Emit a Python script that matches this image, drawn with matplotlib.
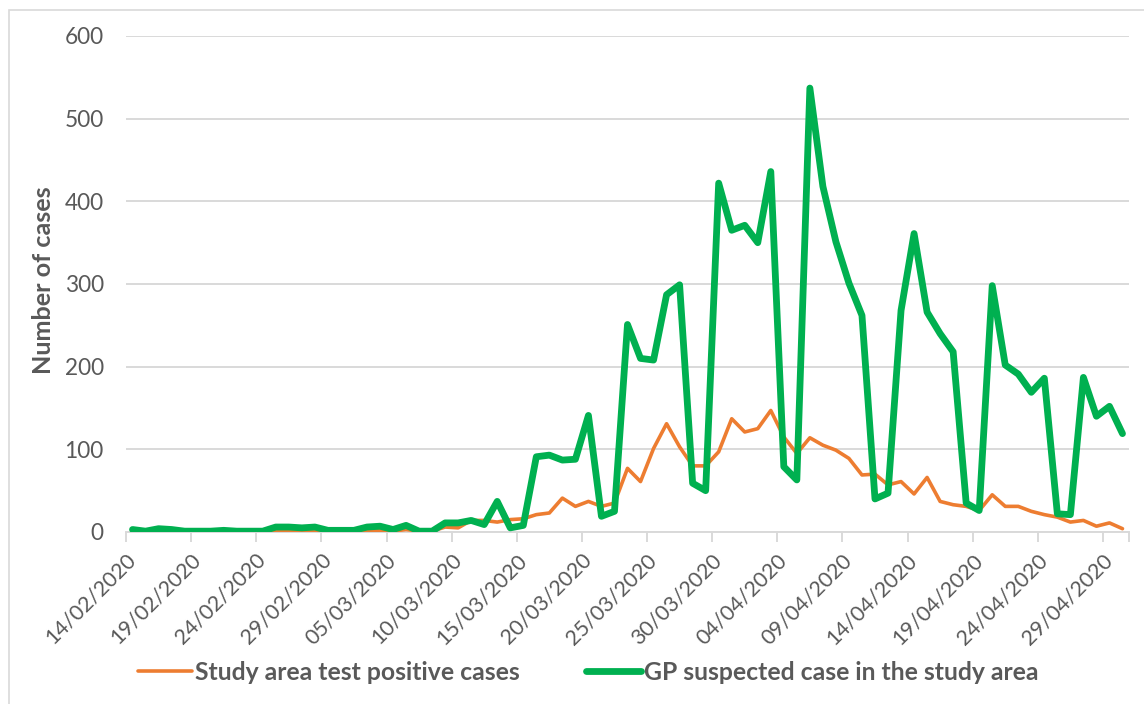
import matplotlib
matplotlib.use("Agg")
import matplotlib.pyplot as plt
import pandas as pd
from matplotlib.patches import Rectangle

dates = pd.date_range("2020-02-14", periods=77, freq="D")

positive_cases = [1, 0, 1, 1, 0, 0, 0, 0, 0, 0,
                  0, 2, 2, 2, 2, 1, 1, 1, 2, 2,
                  1, 3, 1, 1, 6, 5, 14, 14, 12, 15,
                  16, 21, 23, 41, 31, 37, 31, 35, 77, 61,
                  101, 131, 103, 80, 80, 97, 137, 121, 125, 147,
                  115, 95, 114, 105, 99, 89, 69, 70, 57, 61,
                  46, 66, 37, 33, 31, 26, 45, 31, 31, 25,
                  21, 18, 12, 14, 7, 11, 4]

gp_suspected = [3, 1, 4, 3, 1, 1, 1, 2, 1, 1,
                1, 6, 6, 5, 6, 2, 2, 2, 6, 7,
                3, 8, 1, 1, 11, 11, 14, 9, 37, 5,
                8, 91, 93, 87, 88, 141, 19, 25, 251, 210,
                208, 287, 299, 59, 50, 422, 365, 371, 350, 436,
                79, 63, 537, 418, 351, 301, 262, 40, 47, 268,
                361, 266, 240, 218, 35, 26, 298, 202, 191, 169,
                186, 22, 21, 187, 140, 152, 119]

tick_labels = ["14/02/2020", "19/02/2020", "24/02/2020", "29/02/2020",
               "05/03/2020", "10/03/2020", "15/03/2020", "20/03/2020",
               "25/03/2020", "30/03/2020", "04/04/2020", "09/04/2020",
               "14/04/2020", "19/04/2020", "24/04/2020", "29/04/2020"]

series_names = ["Study area test positive cases", "GP suspected case in the study area"]
y_ticks = [0, 100, 200, 300, 400, 500, 600]

TXT = "#595959"
GRID = "#D9D9D9"
FONT = ["Lato", "DejaVu Sans"]
plt.rcParams["font.family"] = FONT

W, H = 1144, 704
fig = plt.figure(figsize=(W / 100, H / 100), dpi=100)
ax = fig.add_axes([126 / W, 1 - 532 / H, (1129 - 126) / W, (532 - 36) / H])

x = list(range(len(dates)))
ax.plot(x, positive_cases, color="#ED7D31", lw=2.6, solid_joinstyle="round",
        solid_capstyle="round", label=series_names[0], zorder=3)
ax.plot(x, gp_suspected, color="#00B050", lw=4.9, solid_joinstyle="round",
        solid_capstyle="round", label=series_names[1], zorder=4)

ax.set_xlim(-0.5, len(dates) - 0.5)
ax.set_ylim(0, 600)
ax.set_yticks(y_ticks)
ax.set_yticklabels([str(v) for v in y_ticks], fontsize=16.3, color=TXT)
ax.tick_params(axis="y", length=0, pad=16)
ax.grid(axis="y", color=GRID, lw=1.4)
ax.set_axisbelow(True)

label_pos = list(range(0, len(dates), 5))
ax.set_xticks(label_pos)
ax.set_xticklabels(tick_labels, rotation=45, ha="right", va="center",
                   rotation_mode="anchor", fontsize=15.5, color=TXT)
ax.tick_params(axis="x", length=0, pad=18)
ax.set_xticks([p - 0.5 for p in label_pos] + [len(dates) - 0.5], minor=True)
ax.tick_params(axis="x", which="minor", length=7, width=1.4, color=GRID)

for s in ["top", "right", "left"]:
    ax.spines[s].set_visible(False)
ax.spines["bottom"].set_color(GRID)
ax.spines["bottom"].set_linewidth(1.4)

ax.set_ylabel("Number of cases", fontsize=18.2, fontweight="bold", color=TXT)
ax.yaxis.set_label_coords((44 - 126) / (1129 - 126), (532 - 280) / 496)
ax.yaxis.label.set_va("center")
ax.yaxis.label.set_ha("center")

leg = fig.legend(loc="center", bbox_to_anchor=(588 / W, 1 - 672 / H), ncol=2,
                 frameon=False, handlelength=2.2, handletextpad=0.12,
                 columnspacing=2.7, prop={"family": FONT, "weight": "bold", "size": 17.8})
for t in leg.get_texts():
    t.set_color(TXT)

fig.patches.append(Rectangle((9 / W, -0.1), 1.5, 1.1 - 10 / H, fill=False,
                             edgecolor=GRID, lw=1.2, transform=fig.transFigure))

fig.savefig("out.png", dpi=100, facecolor="white")
